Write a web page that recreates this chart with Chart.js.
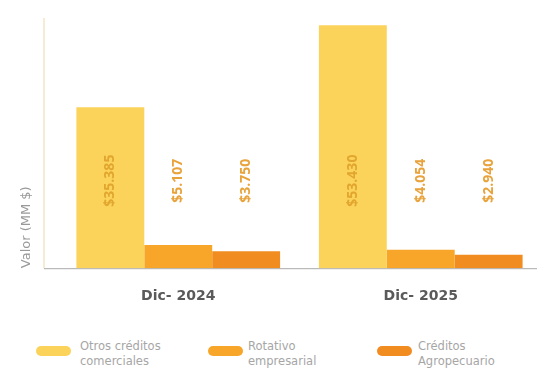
<!DOCTYPE html>
<html lang="es">
<head>
<meta charset="utf-8">
<script src="https://cdn.jsdelivr.net/npm/chart.js@4"></script>
<style>
  html, body { margin: 0; padding: 0; background: #fff; overflow: hidden; }
  #wrap { position: relative; width: 537px; height: 370px; overflow: hidden; }
  #box { position: absolute; left: 0; top: 0; width: 545px; height: 317px; }
  .legend { position: absolute; top: 339px; left: 0; width: 537px; height: 31px;
            font-family: "DejaVu Sans", sans-serif; font-size: 11.5px;
            line-height: 15px; color: #a6a6a6; }
  .item { position: absolute; top: 0; }
  .swatch { position: absolute; top: 7px; width: 35px; height: 10px; border-radius: 5px; }
  .txt { position: absolute; top: 0; white-space: nowrap; }
</style>
</head>
<body>
<div id="wrap">
  <div id="box"><canvas id="creditChart"></canvas></div>
  <div class="legend" id="legend"></div>
</div>
<script>
const periods = ["Dic- 2024", "Dic- 2025"];
const seriesNames = [["Otros créditos", "comerciales"], ["Rotativo", "empresarial"], ["Créditos", "Agropecuario"]];
const otrosComerciales = [35385, 53430];
const rotativoEmpresarial = [5107, 4054];
const agropecuario = [3750, 2940];
const valueLabels = [["$35.385", "$53.430"], ["$5.107", "$4.054"], ["$3.750", "$2.940"]];
const seriesColors = ["#fbd35b", "#f8a62a", "#f18d20"];
const labelColors = ["#e2a62e", "#e9a33c", "#e9a33c"];

// rotated value labels, all sitting on the same band of the plot
const barLabels = {
    id: "barLabels",
    afterDatasetsDraw(chart) {
        const ctx = chart.ctx;
        const area = chart.chartArea;
        const cy = area.top + area.height * 0.65;
        ctx.save();
        ctx.font = "bold 14px 'Open Sans', sans-serif";
        ctx.textAlign = "center";
        ctx.textBaseline = "middle";
        chart.data.datasets.forEach((ds, i) => {
            chart.getDatasetMeta(i).data.forEach((bar, j) => {
                ctx.save();
                ctx.translate(bar.x, cy);
                ctx.rotate(-Math.PI / 2);
                ctx.fillStyle = labelColors[i];
                ctx.fillText(valueLabels[i][j], 0, 0);
                ctx.restore();
            });
        });
        ctx.restore();
    }
};

// axis lines start a little left of the plot
const axisLines = {
    id: "axisLines",
    beforeDatasetsDraw(chart) {
        const ctx = chart.ctx;
        const area = chart.chartArea;
        const x0 = area.left - 13;
        ctx.save();
        ctx.strokeStyle = "#f2e6c4";
        ctx.lineWidth = 1.5;
        ctx.beginPath();
        ctx.moveTo(x0, area.top);
        ctx.lineTo(x0, area.bottom);
        ctx.stroke();
        ctx.strokeStyle = "#a9a9a9";
        ctx.lineWidth = 1;
        ctx.beginPath();
        ctx.moveTo(x0, area.bottom + 0.5);
        ctx.lineTo(chart.width, area.bottom + 0.5);
        ctx.stroke();
        ctx.restore();
    }
};

const datasets = [otrosComerciales, rotativoEmpresarial, agropecuario].map((values, i) => ({
    label: seriesNames[i].join(" "),
    data: values,
    backgroundColor: seriesColors[i],
    borderWidth: 0,
    categoryPercentage: 0.84,
    barPercentage: 1
}));

new Chart(document.getElementById("creditChart"), {
    type: "bar",
    data: { labels: periods, datasets: datasets },
    options: {
        responsive: true,
        maintainAspectRatio: false,
        animation: false,
        layout: { padding: { top: 18, right: 3, left: 0, bottom: 0 } },
        plugins: { legend: { display: false }, tooltip: { enabled: false } },
        scales: {
            x: {
                grid: { display: false },
                border: { display: false },
                ticks: {
                    color: "#5a5a5a",
                    padding: 12,
                    font: { family: "'DejaVu Sans', sans-serif", size: 14, weight: "bold" }
                }
            },
            y: {
                min: 0,
                max: 55000,
                grid: { display: false },
                border: { display: false },
                ticks: { display: false },
                title: {
                    display: true,
                    text: "Valor (MM $)",
                    align: "start",
                    color: "#9a9a9a",
                    padding: { top: 19, bottom: 0 },
                    font: { family: "'DejaVu Sans', sans-serif", size: 13 }
                },
                afterFit(scale) { scale.width = 57; }
            }
        }
    },
    plugins: [axisLines, barLabels]
});

// two-line legend under the plot
const legendPos = [[36, 80], [208, 248], [377, 418]];
const legend = document.getElementById("legend");
seriesNames.forEach((name, i) => {
    const item = document.createElement("div");
    item.className = "item";
    item.innerHTML =
        `<span class="swatch" style="left:${legendPos[i][0]}px;background:${seriesColors[i]}"></span>` +
        `<span class="txt" style="left:${legendPos[i][1]}px">${name[0]}<br>${name[1]}</span>`;
    legend.appendChild(item);
});
</script>
</body>
</html>
